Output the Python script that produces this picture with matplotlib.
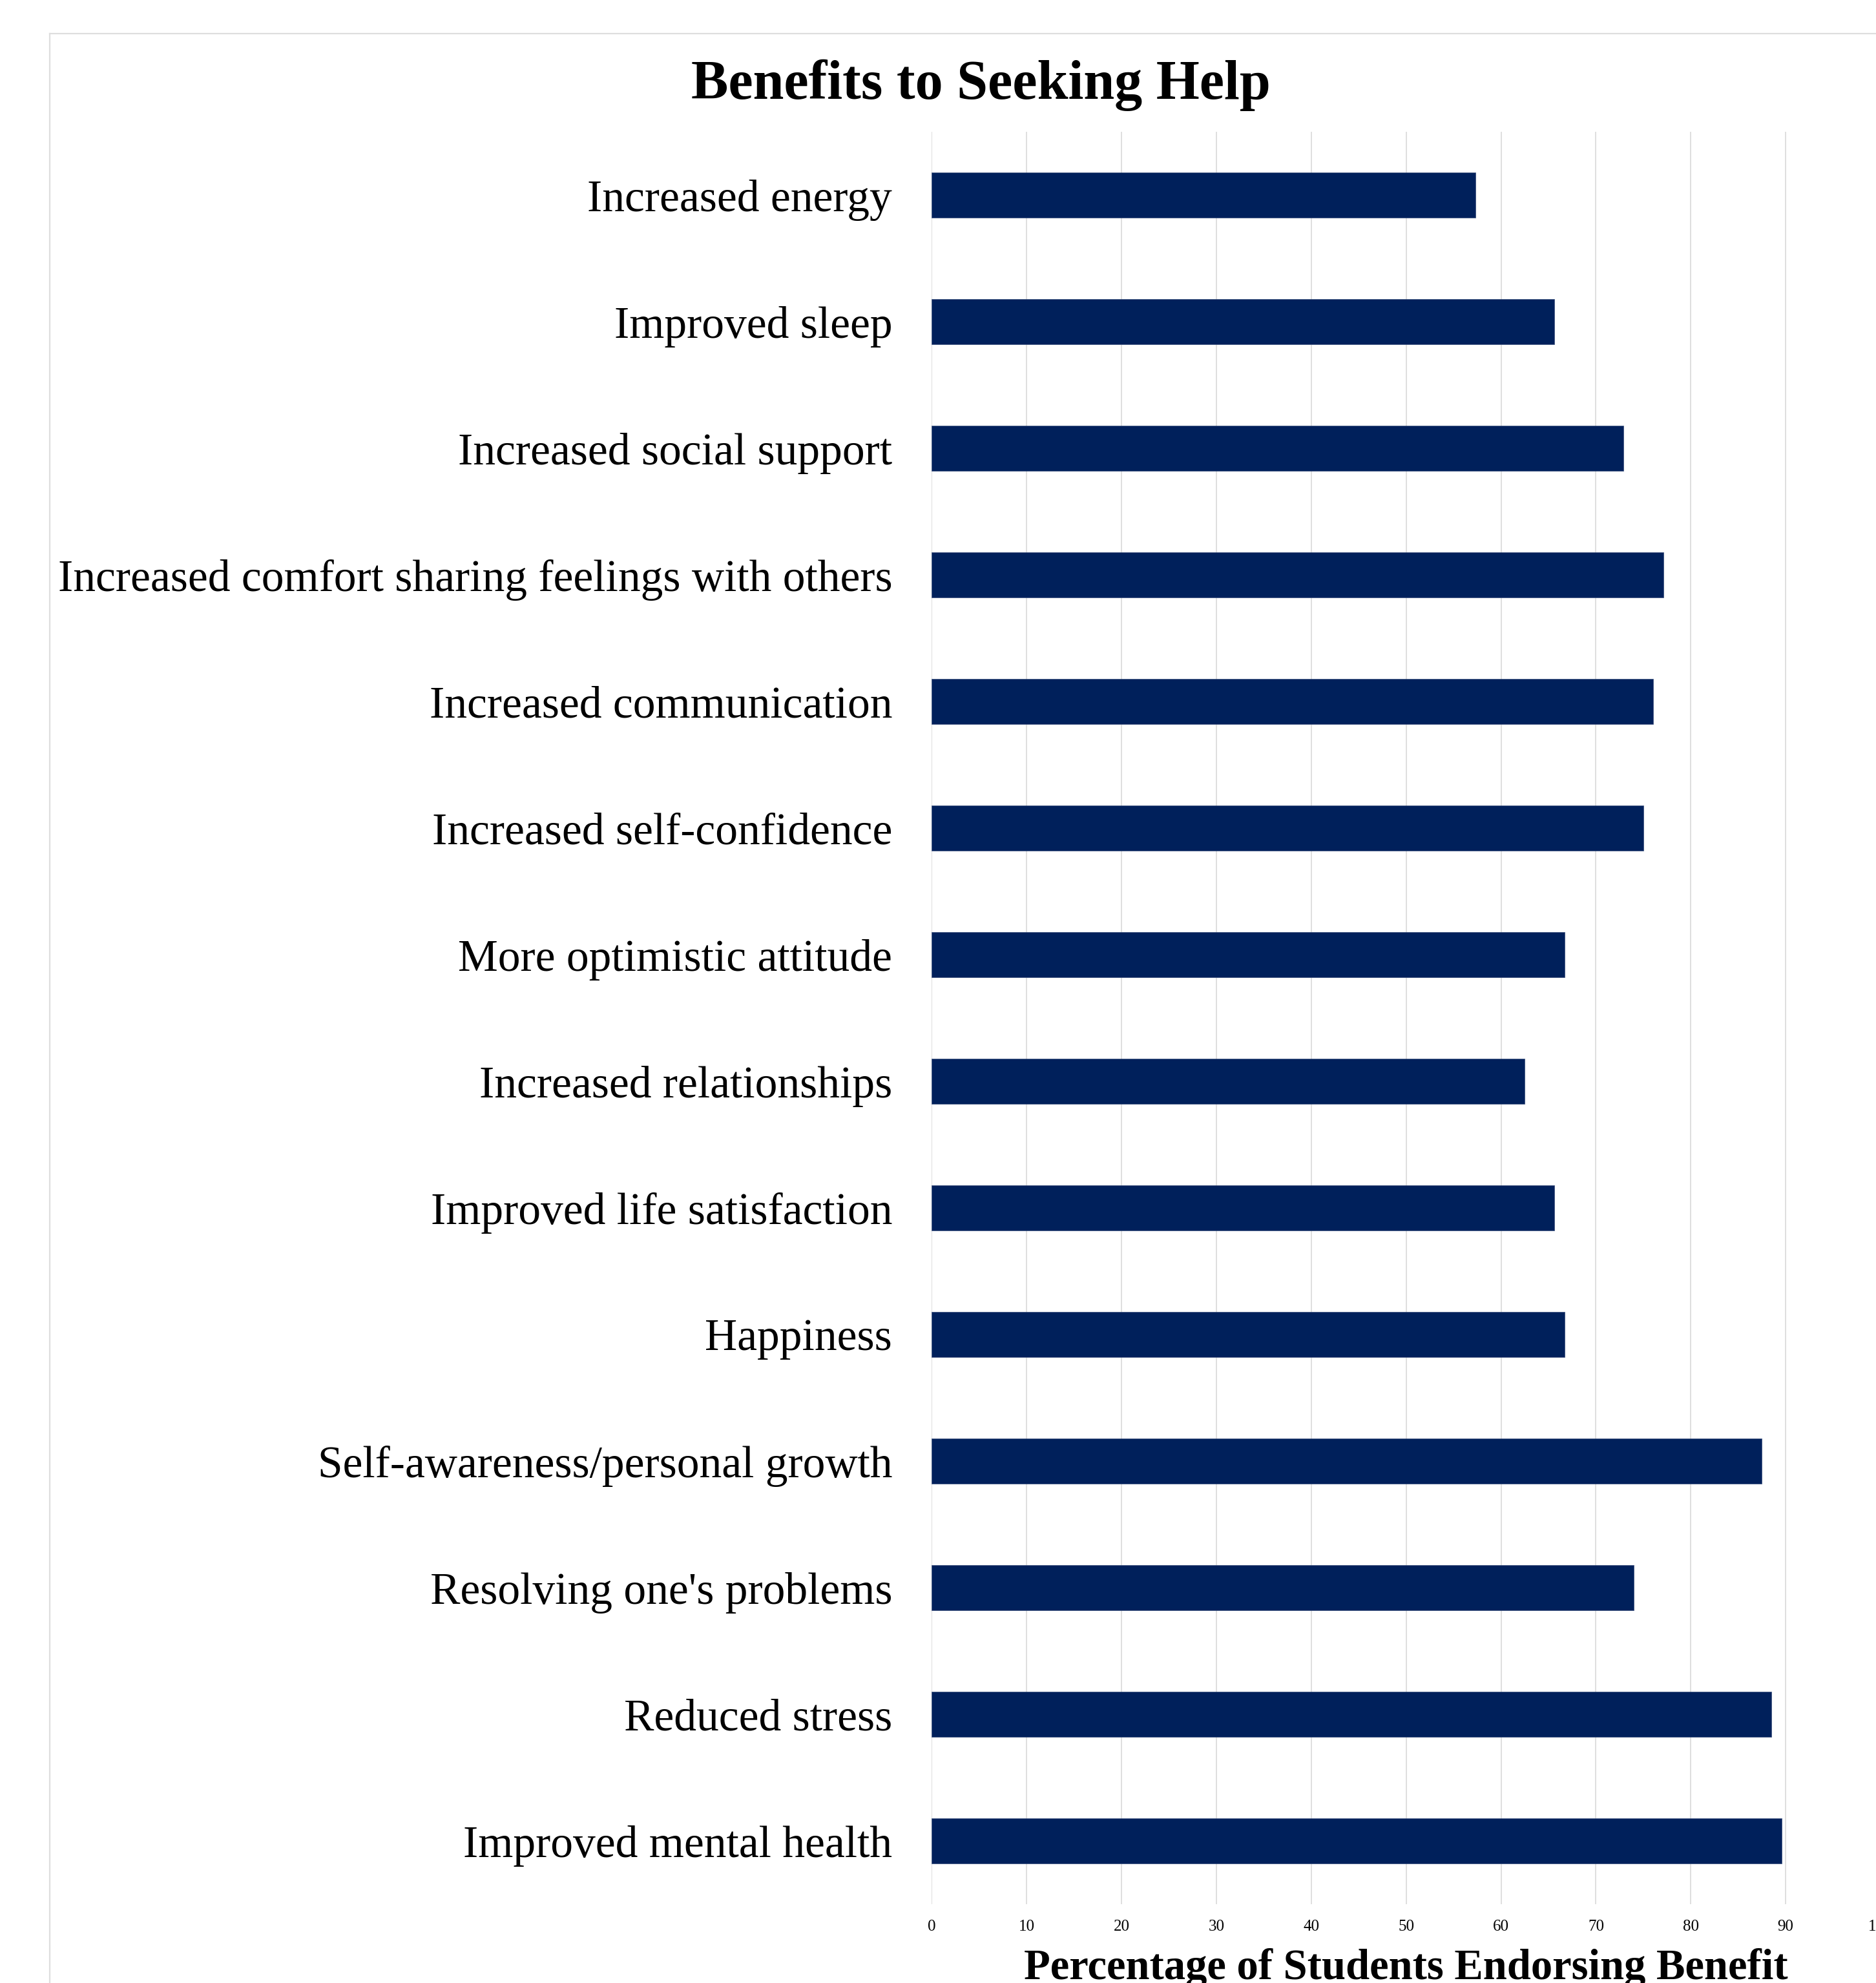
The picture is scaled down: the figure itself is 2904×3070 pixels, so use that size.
import matplotlib
matplotlib.use("Agg")
import matplotlib.pyplot as plt
from matplotlib.lines import Line2D

categories = [
    "Increased energy",
    "Improved sleep",
    "Increased social support",
    "Increased comfort sharing feelings with others",
    "Increased communication",
    "Increased self-confidence",
    "More optimistic attitude",
    "Increased relationships",
    "Improved life satisfaction",
    "Happiness",
    "Self-awareness/personal growth",
    "Resolving one's problems",
    "Reduced stress",
    "Improved mental health",
]
values = [57.3, 65.6, 72.9, 77.1, 76.0, 75.0, 66.7, 62.5, 65.6, 66.7, 87.5, 74.0, 88.5, 89.6]
x_ticks = [0, 10, 20, 30, 40, 50, 60, 70, 80, 90, 100]

title = "Benefits to Seeking Help"
x_title = "Percentage of Students Endorsing Benefit"

W, H = 2904, 3070
DPI = 100
plt.rcParams["font.family"] = ["Liberation Serif", "DejaVu Serif"]

fig = plt.figure(figsize=(W / DPI, H / DPI), dpi=DPI)
fig.patch.set_facecolor("white")

left_px, right_px = 1442.3, 2911.0
top_px, bottom_px = 204.0, 2948.0
ax = fig.add_axes([left_px / W, 1 - bottom_px / H,
                   (right_px - left_px) / W, (bottom_px - top_px) / H])

ypos = list(range(len(categories)))
ax.barh(ypos, values, height=0.36, color="#00205B", edgecolor="#3b4f7c",
        linewidth=0.5, zorder=3)

ax.set_xlim(0, 100)
ax.set_ylim(len(categories) - 0.5, -0.5)
ax.set_xticks(x_ticks)
ax.set_xticklabels([str(t) for t in x_ticks], fontsize=18)
ax.set_yticks(ypos)
ax.set_yticklabels(categories, fontsize=50)
ax.tick_params(axis="x", length=0, pad=17)
ax.tick_params(axis="y", length=0, pad=44)
ax.grid(axis="x", color="#dcdcdc", linewidth=1.3, zorder=0)
ax.grid(axis="y", visible=False)
ax.set_axisbelow(True)
for s in ax.spines.values():
    s.set_visible(False)

# x-axis title (bold, partially cut at bottom as in the reference)
fig.text((left_px + right_px) / 2 / W, 1 - 3064 / H, x_title, ha="center",
         va="baseline", fontsize=48, fontweight="bold")

# title
fig.text(1518 / W, 1 - 153 / H, title, ha="center", va="baseline",
         fontsize=62, fontweight="bold")

# light outer border (top and left visible)
fig.add_artist(Line2D([77 / W, 1.01], [1 - 52 / H, 1 - 52 / H],
                      transform=fig.transFigure, color="#dedede", linewidth=1.6))
fig.add_artist(Line2D([77 / W, 77 / W], [1 - 52 / H, -0.01],
                      transform=fig.transFigure, color="#dedede", linewidth=1.6))

fig.savefig("out.png", dpi=DPI, facecolor="white")
